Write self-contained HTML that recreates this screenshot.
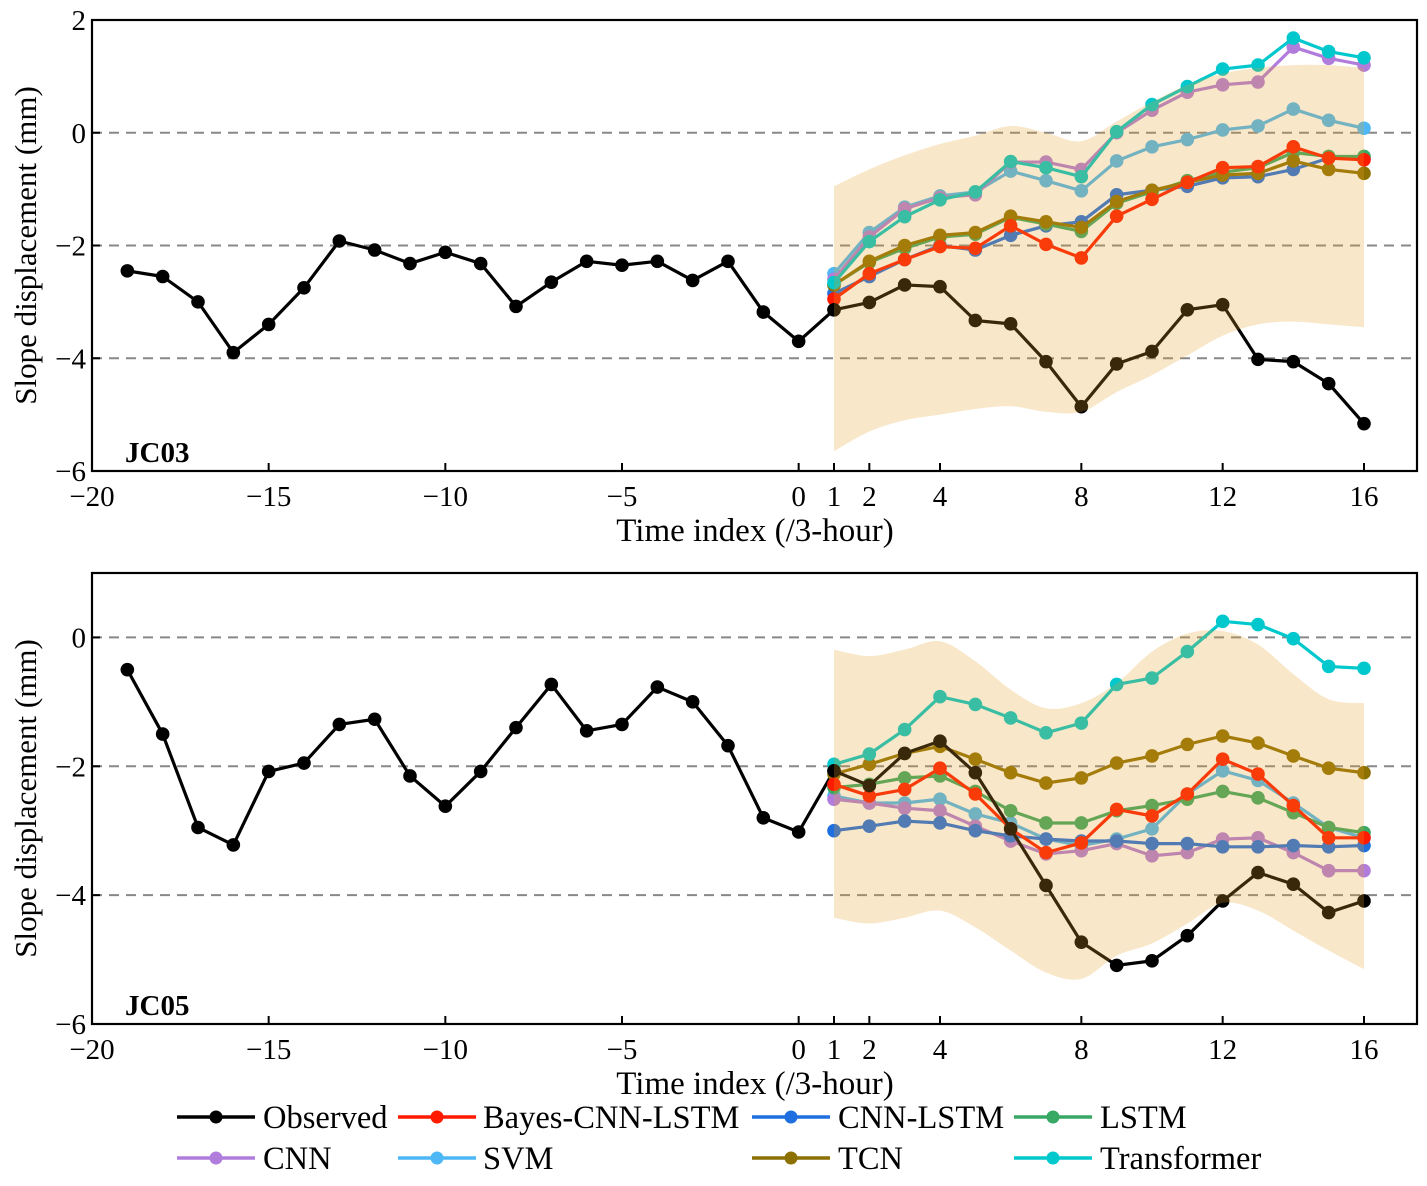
<!DOCTYPE html>
<html><head><meta charset="utf-8"><style>
body{margin:0;background:#fff;}
svg text{font-family:"Liberation Serif",serif;fill:#000;}
</style></head><body>
<svg id="c" width="1427" height="1181" xmlns="http://www.w3.org/2000/svg"></svg>
<script>
const histT=[-19,-18,-17,-16,-15,-14,-13,-12,-11,-10,-9,-8,-7,-6,-5,-4,-3,-2,-1,0];
const foreT=[1,2,3,4,5,6,7,8,9,10,11,12,13,14,15,16];
const xTicks=[-20,-15,-10,-5,0,1,2,4,8,12,16];
const xTickLabels=["−20","−15","−10","−5","0","1","2","4","8","12","16"];
// JC03
const obsHist1=[-2.45,-2.55,-3.0,-3.9,-3.4,-2.75,-1.92,-2.08,-2.32,-2.12,-2.32,-3.08,-2.65,-2.28,-2.35,-2.28,-2.62,-2.28,-3.18,-3.7];
const obsFore1=[-3.14,-3.01,-2.7,-2.73,-3.33,-3.39,-4.06,-4.86,-4.1,-3.88,-3.14,-3.05,-4.02,-4.06,-4.45,-5.16];
const bayes1=[-2.95,-2.5,-2.25,-2.02,-2.05,-1.65,-1.98,-2.22,-1.48,-1.18,-0.88,-0.62,-0.6,-0.25,-0.45,-0.48];
const cnnlstm1=[-2.85,-2.55,-2.25,-2.0,-2.08,-1.82,-1.65,-1.58,-1.1,-1.02,-0.95,-0.8,-0.78,-0.65,-0.45,-0.45];
const lstm1=[-2.7,-2.3,-2.05,-1.85,-1.8,-1.5,-1.62,-1.75,-1.25,-1.05,-0.85,-0.7,-0.62,-0.35,-0.42,-0.42];
const cnn1=[-2.6,-1.85,-1.35,-1.15,-1.1,-0.52,-0.52,-0.65,0.0,0.4,0.72,0.85,0.9,1.52,1.32,1.2];
const svm1=[-2.5,-1.77,-1.32,-1.12,-1.05,-0.68,-0.85,-1.03,-0.5,-0.25,-0.12,0.05,0.12,0.42,0.22,0.08];
const tcn1=[-2.7,-2.28,-2.0,-1.82,-1.77,-1.48,-1.58,-1.68,-1.22,-1.02,-0.88,-0.75,-0.72,-0.5,-0.65,-0.72];
const trans1=[-2.66,-1.93,-1.49,-1.19,-1.05,-0.51,-0.62,-0.78,0.02,0.5,0.82,1.13,1.2,1.68,1.44,1.33];
const bandUp1=[-0.95,-0.65,-0.4,-0.2,-0.05,0.12,0.0,-0.15,0.2,0.55,0.85,1.05,1.15,1.2,1.2,1.15];
const bandLo1=[-5.65,-5.3,-5.1,-5.0,-4.9,-4.85,-4.95,-4.95,-4.6,-4.3,-3.95,-3.6,-3.4,-3.35,-3.4,-3.45];
// JC05
const obsHist2=[-0.5,-1.5,-2.95,-3.22,-2.08,-1.95,-1.35,-1.27,-2.15,-2.62,-2.08,-1.4,-0.73,-1.45,-1.35,-0.77,-1.0,-1.68,-2.8,-3.02];
const obsFore2=[-2.07,-2.3,-1.8,-1.61,-2.1,-2.97,-3.85,-4.73,-5.09,-5.02,-4.63,-4.09,-3.65,-3.83,-4.27,-4.09];
const bayes2=[-2.28,-2.46,-2.36,-2.03,-2.43,-2.97,-3.34,-3.19,-2.67,-2.77,-2.43,-1.89,-2.12,-2.61,-3.11,-3.11];
const cnnlstm2=[-3.0,-2.93,-2.85,-2.88,-3.0,-3.08,-3.13,-3.16,-3.16,-3.2,-3.2,-3.25,-3.25,-3.23,-3.25,-3.23];
const lstm2=[-2.33,-2.28,-2.18,-2.15,-2.39,-2.69,-2.88,-2.88,-2.69,-2.61,-2.51,-2.39,-2.49,-2.72,-2.95,-3.03];
const cnn2=[-2.51,-2.57,-2.65,-2.69,-2.93,-3.16,-3.36,-3.31,-3.2,-3.39,-3.34,-3.13,-3.11,-3.34,-3.62,-3.62];
const svm2=[-2.46,-2.57,-2.57,-2.51,-2.74,-2.88,-3.13,-3.23,-3.13,-2.97,-2.43,-2.07,-2.22,-2.57,-2.95,-3.11];
const tcn2=[-2.12,-1.97,-1.8,-1.69,-1.89,-2.1,-2.26,-2.18,-1.95,-1.84,-1.66,-1.53,-1.64,-1.84,-2.03,-2.1];
const trans2=[-1.97,-1.81,-1.43,-0.92,-1.04,-1.25,-1.48,-1.33,-0.73,-0.63,-0.22,0.25,0.2,-0.02,-0.45,-0.48];
const bandUp2=[-0.19,-0.29,-0.19,-0.06,-0.37,-0.81,-1.1,-1.02,-0.71,-0.22,0.06,0.1,-0.11,-0.57,-0.96,-1.02];
const bandLo2=[-4.35,-4.44,-4.35,-4.24,-4.5,-4.86,-5.2,-5.3,-4.94,-4.75,-4.44,-4.12,-4.24,-4.55,-4.86,-5.15];

const NS="http://www.w3.org/2000/svg";
const svg=document.getElementById('c');
function mk(tag,attrs,parent){const e=document.createElementNS(NS,tag);for(const k in attrs)e.setAttribute(k,attrs[k]);(parent||svg).appendChild(e);return e;}
const X0=92,X1=1417,XMIN=-20,XMAX=17.5;
const xs=t=>X0+(t-XMIN)/(XMAX-XMIN)*(X1-X0);
const colors={obs:"#000",bayes:"#ff1a00",cnnlstm:"#1f6fe0",lstm:"#38a865",cnn:"#b07ddc",svm:"#4db8f5",tcn:"#8c7000",trans:"#00c8cc"};

function smoothPath(pts){
  let d="M"+pts[0][0]+","+pts[0][1];
  for(let i=0;i<pts.length-1;i++){
    const p0=pts[Math.max(0,i-1)],p1=pts[i],p2=pts[i+1],p3=pts[Math.min(pts.length-1,i+2)];
    const c1=[p1[0]+(p2[0]-p0[0])/6,p1[1]+(p2[1]-p0[1])/6];
    const c2=[p2[0]-(p3[0]-p1[0])/6,p2[1]-(p3[1]-p1[1])/6];
    d+=" C"+c1+" "+c2+" "+p2;
  }
  return d;
}

function panel(name,Y0,Y1,YMIN,YMAX,yTicks,label,d){
  const ys=v=>Y1-(v-YMIN)/(YMAX-YMIN)*(Y1-Y0);
  const g=mk('g',{});
  
  
  [0,-2,-4].forEach(v=>{const l=mk('line',{x1:X0,x2:X1,y1:ys(v),y2:ys(v),stroke:"#888","stroke-width":2,"stroke-dasharray":"10,7"},g);
    });
  function series(key,tt,vals,nm){
    const sg=mk('g',{},g);
    
    
    mk('polyline',{points:tt.map((t,i)=>xs(t)+","+ys(vals[i])).join(" "),fill:"none",stroke:colors[key],"stroke-width":3.2,"stroke-linejoin":"round"},sg);
    tt.forEach((t,i)=>{const c=mk('circle',{cx:xs(t),cy:ys(vals[i]),r:6.8,fill:colors[key]},sg);
      });
  }
  series('obs',histT.concat([foreT[0]]),d.oh.concat([d.of[0]]),'observed-history');
  series('svm',foreT,d.svm,'svm-series');
  series('cnn',foreT,d.cnn,'cnn-series');
  series('cnnlstm',foreT,d.cl,'cnn-lstm-series');
  series('lstm',foreT,d.lstm,'lstm-series');
  series('tcn',foreT,d.tcn,'tcn-series');
  series('trans',foreT,d.tr,'transformer-series');
  series('bayes',foreT,d.b,'bayes-cnn-lstm-series');
  series('obs',foreT,d.of,'observed-forecast');
  const up=foreT.map((t,i)=>[xs(t),ys(d.bu[i])]);
  const lo=foreT.map((t,i)=>[xs(t),ys(d.bl[i])]).reverse();
  const band=mk('path',{d:smoothPath(up)+" L"+lo[0]+" "+smoothPath(lo).slice(1)+" Z",fill:"rgb(230,160,40)","fill-opacity":0.25},g);
  
  
  mk('rect',{x:X0,y:Y0,width:X1-X0,height:Y1-Y0,fill:"none",stroke:"#000","stroke-width":2.2},g);
  xTicks.forEach((t,i)=>{
    mk('line',{x1:xs(t),x2:xs(t),y1:Y1,y2:Y1-8,stroke:"#000","stroke-width":2},g);
    const tx=mk('text',{x:xs(t),y:Y1+35,"font-size":29,"text-anchor":"middle"},g);tx.textContent=xTickLabels[i];
    
  });
  yTicks.forEach(v=>{
    mk('line',{x1:X0,x2:X0+8,y1:ys(v),y2:ys(v),stroke:"#000","stroke-width":2},g);
    const tx=mk('text',{x:X0-6,y:ys(v)+10,"font-size":29,"text-anchor":"end"},g);tx.textContent=v<0?"−"+(-v):String(v);
    
  });
  const lb=mk('text',{x:125,y:Y1-9,"font-size":29,"font-weight":"bold"},g);lb.textContent=label;
  
  const xt=mk('text',{x:755,y:Y1+70,"font-size":33,"text-anchor":"middle"},g);xt.textContent="Time index (/3-hour)";
  
  const cy=(Y0+Y1)/2;
  const yt=mk('text',{x:36,y:cy,"font-size":31,"text-anchor":"middle",transform:"rotate(-90 36 "+cy+")"},g);yt.textContent="Slope displacement (mm)";
  
}
panel('jc03',20,471,-6,2,[2,0,-2,-4,-6],'JC03',{oh:obsHist1,of:obsFore1,b:bayes1,cl:cnnlstm1,lstm:lstm1,cnn:cnn1,svm:svm1,tcn:tcn1,tr:trans1,bu:bandUp1,bl:bandLo1});
panel('jc05',573,1024,-6,1,[0,-2,-4,-6],'JC05',{oh:obsHist2,of:obsFore2,b:bayes2,cl:cnnlstm2,lstm:lstm2,cnn:cnn2,svm:svm2,tcn:tcn2,tr:trans2,bu:bandUp2,bl:bandLo2});

const legendNames=["Observed","Bayes-CNN-LSTM","CNN-LSTM","LSTM","CNN","SVM","TCN","Transformer"];
const legendKeys=["obs","bayes","cnnlstm","lstm","cnn","svm","tcn","trans"];
const legX=[177,398,752,1014,177,398,752,1014];
const legTX=[263,483,838,1100,263,483,838,1100];
legendNames.forEach((n,i)=>{
  const y=i<4?1117:1158;
  const g=mk('g',{});
  
  
  mk('line',{x1:legX[i],x2:legX[i]+78,y1:y,y2:y,stroke:colors[legendKeys[i]],"stroke-width":3.5},g);
  mk('circle',{cx:legX[i]+39,cy:y,r:6.5,fill:colors[legendKeys[i]]},g);
  const t=mk('text',{x:legTX[i],y:y+11,"font-size":32.5},g);t.textContent=n;
});
</script>
</body></html>
